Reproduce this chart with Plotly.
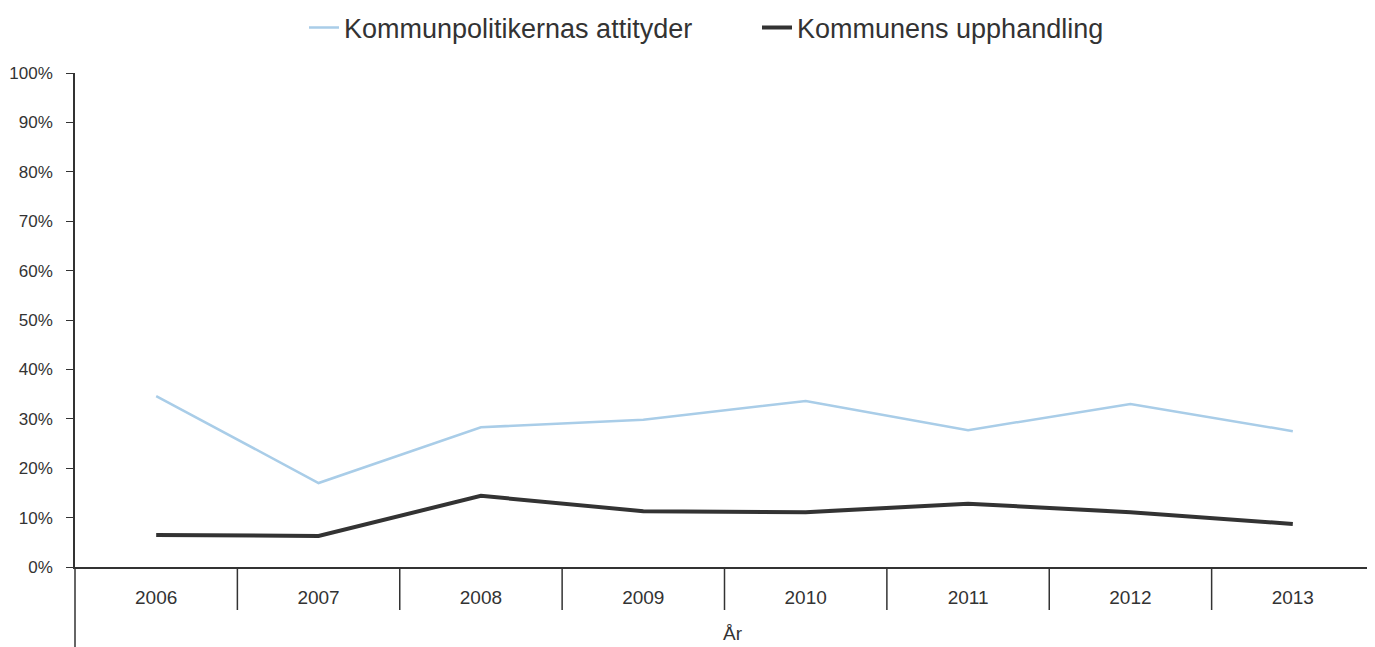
import plotly.graph_objects as go

years = ["2006", "2007", "2008", "2009", "2010", "2011", "2012", "2013"]
attityder = [0.346, 0.170, 0.283, 0.298, 0.336, 0.277, 0.330, 0.275]
upphandling = [0.065, 0.063, 0.144, 0.113, 0.111, 0.128, 0.111, 0.087]
y_ticks = [0, 0.1, 0.2, 0.3, 0.4, 0.5, 0.6, 0.7, 0.8, 0.9, 1.0]
y_labels = ["0%", "10%", "20%", "30%", "40%", "50%", "60%", "70%", "80%", "90%", "100%"]

xs = list(range(len(years)))
OFF = 8  # page body margin
W, H = 1375 - OFF, 647 - OFF
top, bottom = 73, 567
left, right_px = 75, 1374
ph = bottom - top
pw = right_px - left

def py(pix):
    return (bottom - pix) / ph

def px(pix):
    return (pix - left) / pw

fig = go.Figure()
fig.add_trace(go.Scatter(x=xs, y=attityder, mode="lines", name="Kommunpolitikernas attityder",
                         line=dict(color="#a9cde8", width=2.5)))
fig.add_trace(go.Scatter(x=xs, y=upphandling, mode="lines", name="Kommunens upphandling",
                         line=dict(color="#333333", width=4)))

shapes = []
for i in range(len(years) - 1):
    shapes.append(dict(type="line", xref="x", yref="paper", x0=i + 0.5, x1=i + 0.5,
                       y0=0, y1=py(610), line=dict(color="#333333", width=1.5)))
shapes.append(dict(type="line", xref="paper", yref="paper", x0=0, x1=0, y0=0, y1=py(650),
                   line=dict(color="#333333", width=1.5)))
shapes.append(dict(type="line", xref="paper", yref="paper", x0=1, x1=1, y0=0, y1=py(650),
                   line=dict(color="#333333", width=1.5)))

fig.update_layout(
    width=W, height=H,
    margin=dict(l=left - OFF, r=1375 - right_px, t=top - OFF, b=647 - bottom, autoexpand=False),
    paper_bgcolor="white", plot_bgcolor="white",
    font=dict(family="Liberation Sans, Arial, sans-serif", color="#333333", size=17),
    showlegend=True,
    legend=dict(orientation="h", x=px(304), xanchor="left", y=1 - (28 - OFF) / H, yanchor="middle",
                yref="container", font=dict(size=27, color="#333333"),
                entrywidth=408, itemwidth=30, bgcolor="rgba(0,0,0,0)"),
    shapes=shapes,
    annotations=[dict(text="År", xref="paper", yref="paper", x=px(733), y=py(633),
                      yanchor="middle", xanchor="center",
                      showarrow=False, font=dict(size=19, color="#333333"))],
    xaxis=dict(range=[-0.5, len(years) - 0.5], tickvals=xs, ticktext=years, automargin=False,
               showgrid=False, zeroline=False, showline=True, linecolor="#333333", linewidth=1.5,
               ticks="", ticklabelstandoff=12, tickfont=dict(size=19), fixedrange=True),
    yaxis=dict(range=[0, 1], tickvals=y_ticks, ticktext=y_labels, showgrid=False, zeroline=False,
               automargin=False,
               showline=True, linecolor="#333333", linewidth=1.5, ticks="outside", ticklen=7,
               tickcolor="#333333", tickfont=dict(size=17), ticklabelstandoff=10, fixedrange=True),
)
fig.write_html("out.html")
